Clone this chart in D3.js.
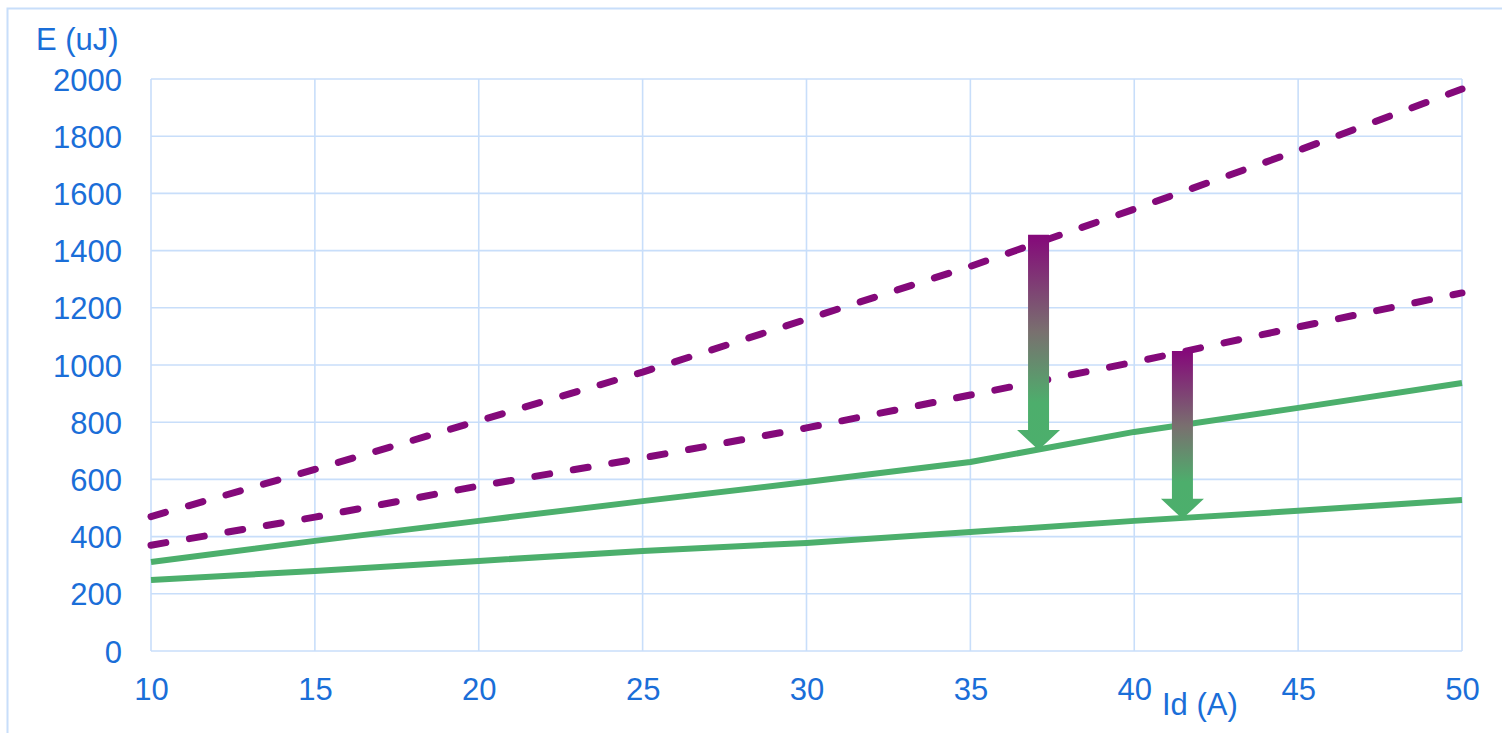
<!DOCTYPE html>
<html>
<head>
<meta charset="utf-8">
<script src="https://cdn.jsdelivr.net/npm/d3@7"></script>
<style>
  html, body { margin: 0; padding: 0; background: #fff; }
  svg { display: block; }
  text { font-family: "Liberation Sans", Arial, sans-serif; }
</style>
</head>
<body>
<svg id="chart" width="1502" height="733"></svg>
<script>
// Drain current Id (A)
const currents = [10, 15, 20, 25, 30, 35, 40, 45, 50];
// Switching energy E (uJ), two dashed (before) and two solid (after) curves
const energyDashedHigh = [470, 635, 805, 975, 1160, 1345, 1545, 1750, 1965];
const energyDashedLow  = [370, 468, 577, 675, 780, 895, 1010, 1133, 1252];
const energySolidHigh  = [311, 385, 455, 524, 591, 661, 766, 850, 937];
const energySolidLow   = [248, 280, 315, 350, 378, 416, 455, 490, 528];
// Reduction arrows: current position, start energy, end energy
const arrowCurrents = [37.08, 41.47];
const arrowFrom = [1455, 1049];
const arrowTo = [703, 462];
// Axis ticks
const xTicks = [10, 15, 20, 25, 30, 35, 40, 45, 50];
const yTicks = [0, 200, 400, 600, 800, 1000, 1200, 1400, 1600, 1800, 2000];

const textColor = "#1a6ed8";
const gridColor = "#c8defa";
const purple = "#84097a";
const green = "#4caf6c";
const fontSize = "31px";

const svg = d3.select("#chart");
const plotLeft = 151, plotRight = 1462, plotTop = 79, plotBottom = 651;

const x = d3.scaleLinear().domain([10, 50]).range([plotLeft, plotRight]);
const y = d3.scaleLinear().domain([0, 2000]).range([plotBottom, plotTop]);

// outer frame
svg.append("path")
  .attr("d", "M7.5,740 V8.5 H1510")
  .attr("fill", "none")
  .attr("stroke", gridColor)
  .attr("stroke-width", 2);

// grid
const grid = svg.append("g");
grid.selectAll("line.h").data(yTicks).join("line").attr("class", "h")
  .attr("x1", plotLeft).attr("x2", plotRight)
  .attr("y1", d => y(d)).attr("y2", d => y(d))
  .attr("stroke", gridColor).attr("stroke-width", 1.6);
grid.selectAll("line.v").data(xTicks).join("line").attr("class", "v")
  .attr("y1", plotTop).attr("y2", plotBottom)
  .attr("x1", d => x(d)).attr("x2", d => x(d))
  .attr("stroke", gridColor).attr("stroke-width", 1.6);

// axes (labels only)
const yAxis = d3.axisLeft(y).tickValues(yTicks).tickFormat(d3.format("d"))
  .tickSize(0).tickPadding(29);
const gy = svg.append("g").attr("transform", `translate(${plotLeft},0)`).call(yAxis);
gy.select(".domain").remove();
gy.selectAll("text")
  .attr("fill", textColor)
  .style("font-family", "'Liberation Sans', Arial, sans-serif")
  .style("font-size", fontSize)
  .attr("dy", "0.36em");

const xAxis = d3.axisBottom(x).tickValues(xTicks).tickFormat(d3.format("d"))
  .tickSize(0).tickPadding(27);
const gx = svg.append("g").attr("transform", `translate(0,${plotBottom})`).call(xAxis);
gx.select(".domain").remove();
gx.selectAll("text")
  .attr("fill", textColor)
  .style("font-family", "'Liberation Sans', Arial, sans-serif")
  .style("font-size", fontSize);

// axis titles
svg.append("text").attr("x", 36).attr("y", 50)
  .attr("fill", textColor).style("font-size", fontSize).text("E (uJ)");
svg.append("text").attr("x", 1162).attr("y", 715)
  .attr("fill", textColor).style("font-size", fontSize).text("Id (A)");

// curves
const line = d3.line().x(d => x(d[0])).y(d => y(d[1]));
const series = [
  { values: energyDashedHigh, color: purple, dash: "15 24" },
  { values: energyDashedLow, color: purple, dash: "15 24" },
  { values: energySolidHigh, color: green, dash: null },
  { values: energySolidLow, color: green, dash: null }
];
svg.append("g").selectAll("path").data(series).join("path")
  .attr("d", s => line(currents.map((c, i) => [c, s.values[i]])))
  .attr("fill", "none")
  .attr("stroke", s => s.color)
  .attr("stroke-width", s => s.dash ? 7 : 6)
  .attr("stroke-linecap", s => s.dash ? "round" : "butt")
  .attr("stroke-linejoin", "round")
  .attr("stroke-dasharray", s => s.dash);

// gradient arrows
const defs = svg.append("defs");
const grad = defs.append("linearGradient")
  .attr("id", "arrowFill")
  .attr("x1", 0).attr("y1", 0).attr("x2", 0).attr("y2", 1);
grad.append("stop").attr("offset", "0").attr("stop-color", "#85087a");
grad.append("stop").attr("offset", "0.45").attr("stop-color", "#79706f");
grad.append("stop").attr("offset", "0.78").attr("stop-color", "#4dae6c");
grad.append("stop").attr("offset", "1").attr("stop-color", "#4caf6c");

const shaftHalf = 10.5, headHalf = 21.5, headLen = 20;
svg.append("g").selectAll("path").data(arrowCurrents).join("path")
  .attr("d", (c, i) => {
    const cx = x(c), y0 = y(arrowFrom[i]), y1 = y(arrowTo[i]);
    const yh = y1 - headLen;
    return `M${cx - shaftHalf},${y0} H${cx + shaftHalf} V${yh} H${cx + headHalf} L${cx},${y1} L${cx - headHalf},${yh} H${cx - shaftHalf} Z`;
  })
  .attr("fill", "url(#arrowFill)");
</script>
</body>
</html>
